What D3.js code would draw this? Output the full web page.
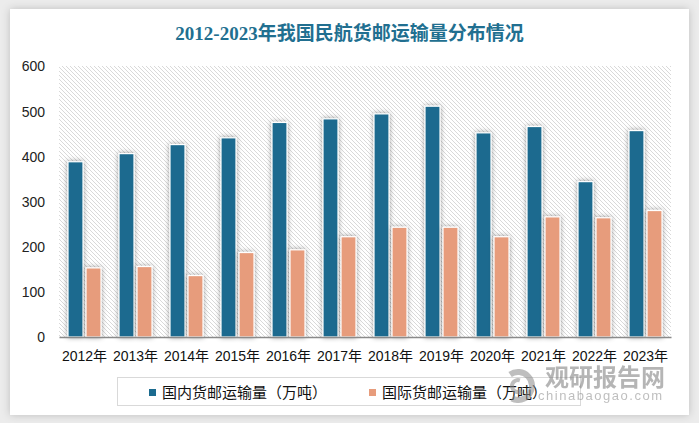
<!DOCTYPE html>
<html>
<head>
<meta charset="utf-8">
<script src="https://cdn.jsdelivr.net/npm/d3@7"></script>
<style>
  html, body { margin: 0; padding: 0; background: #ffffff; }
  svg { display: block; }
</style>
</head>
<body>
<svg id="chart" width="699" height="423"></svg>
<script>
const title = "2012-2023年我国民航货邮运输量分布情况";
const years = ["2012年","2013年","2014年","2015年","2016年","2017年","2018年","2019年","2020年","2021年","2022年","2023年"];
const seriesNames = ["国内货邮运输量（万吨）", "国际货邮运输量（万吨）"];
const domestic = [388, 406, 426, 441, 475, 483, 494, 511, 452, 466, 344, 457];
const international = [153, 156, 136, 187, 193, 222, 243, 243, 222, 266, 264, 280];
const yTicks = [0, 100, 200, 300, 400, 500, 600];
const colors = ["#1b6b8f", "#e79c7c"];

const svg = d3.select("#chart");
const W = 699, H = 423;
const defs = svg.append("defs");

// card shadow
const cs = defs.append("filter").attr("id", "cardShadow").attr("x", "-5%").attr("y", "-5%").attr("width", "110%").attr("height", "110%");
cs.append("feGaussianBlur").attr("in", "SourceAlpha").attr("stdDeviation", 4).attr("result", "b");
cs.append("feFlood").attr("flood-color", "#000").attr("flood-opacity", 0.2);
cs.append("feComposite").attr("in2", "b").attr("operator", "in").attr("result", "s");
const csm = cs.append("feMerge");
csm.append("feMergeNode").attr("in", "s");
csm.append("feMergeNode").attr("in", "SourceGraphic");

// bar shadow
const bs = defs.append("filter").attr("id", "barShadow").attr("x", "-60%").attr("y", "-20%").attr("width", "220%").attr("height", "140%");
bs.append("feGaussianBlur").attr("in", "SourceAlpha").attr("stdDeviation", 2.5).attr("result", "b");
bs.append("feFlood").attr("flood-color", "#000").attr("flood-opacity", 0.4);
bs.append("feComposite").attr("in2", "b").attr("operator", "in").attr("result", "s");
const bsm = bs.append("feMerge");
bsm.append("feMergeNode").attr("in", "s");
bsm.append("feMergeNode").attr("in", "SourceGraphic");

// hatch pattern
const pat = defs.append("pattern").attr("id", "hatch").attr("patternUnits", "userSpaceOnUse")
  .attr("width", 4).attr("height", 4);
pat.append("rect").attr("width", 4).attr("height", 4).attr("fill", "#ffffff");
pat.append("path").attr("d", "M-1,-1 L5,5 M-1,3 L1,5 M3,-1 L5,1")
  .attr("stroke", "#d9d9d9").attr("stroke-width", 1);

// background
svg.append("rect").attr("width", W).attr("height", H).attr("fill", "#ececec");
svg.append("rect").attr("x", 10).attr("y", 9).attr("width", 679).attr("height", 406)
  .attr("fill", "#ffffff").attr("filter", "url(#cardShadow)");

// title
svg.append("text").attr("x", 349.5).attr("y", 40).attr("text-anchor", "middle")
  .attr("font-family", "'Liberation Serif', 'Noto Sans CJK SC', serif")
  .attr("font-size", 19).attr("font-weight", "bold").attr("fill", "#216f90")
  .text(title);

const plot = { left: 59, right: 671, top: 66, bottom: 337 };
const x = d3.scaleBand().domain(years).range([plot.left, plot.right]).paddingInner(0).paddingOuter(0);
const xSub = d3.scaleBand().domain([0, 1]).range([0, x.bandwidth()]).paddingInner(1 / 6).paddingOuter(0.5);
const y = d3.scaleLinear().domain([0, 600]).range([plot.bottom, plot.top]);

// plot area hatch
svg.append("rect").attr("x", plot.left).attr("y", plot.top)
  .attr("width", plot.right - plot.left).attr("height", plot.bottom - plot.top)
  .attr("fill", "url(#hatch)");

// y axis labels
const yAxis = svg.append("g").attr("transform", `translate(${plot.left - 14},0)`)
  .call(d3.axisLeft(y).tickValues(yTicks).tickSize(0).tickPadding(0).tickFormat(d3.format("d")));
yAxis.select(".domain").remove();
yAxis.selectAll("text").attr("font-family", "'Liberation Sans', Arial, sans-serif")
  .attr("font-size", 14).attr("fill", "#222").attr("dy", "0.35em");

// bars
const data = [domestic, international];
data.forEach((vals, si) => {
  svg.append("g").selectAll("rect").data(vals).join("rect")
    .attr("x", (d, i) => x(years[i]) + xSub(si))
    .attr("y", d => y(d))
    .attr("width", xSub.bandwidth())
    .attr("height", d => y(0) - y(d))
    .attr("fill", colors[si])
    .attr("stroke", "#ffffff").attr("stroke-width", 1.2)
    .attr("filter", "url(#barShadow)");
});

// x axis
const xAxis = svg.append("g").attr("transform", `translate(0,${plot.bottom})`)
  .call(d3.axisBottom(x).tickSize(0).tickPadding(14));
xAxis.select(".domain").attr("stroke", "#8a8a8a").attr("stroke-width", 1.3);
xAxis.selectAll("text").attr("font-family", "'Liberation Sans', 'Noto Sans CJK SC', sans-serif")
  .attr("font-size", 14).attr("fill", "#111");

// legend
svg.append("rect").attr("x", 117.5).attr("y", 377.5).attr("width", 463).attr("height", 28)
  .attr("fill", "#ffffff").attr("stroke", "#d9d9d9").attr("stroke-width", 1);
const legX = [149, 369];
seriesNames.forEach((name, i) => {
  const g = svg.append("g").attr("transform", `translate(${legX[i]},0)`);
  g.append("rect").attr("x", 0).attr("y", 389).attr("width", 7).attr("height", 7).attr("fill", colors[i]);
  g.append("text").attr("x", 13).attr("y", 397.5)
    .attr("font-family", "'Noto Sans CJK SC', sans-serif").attr("font-size", 15).attr("fill", "#111")
    .text(name);
});

// watermark
const wm = svg.append("g").attr("opacity", 0.55);
wm.append("path").attr("d", d3.arc()({ innerRadius: 11, outerRadius: 17, startAngle: -0.6, endAngle: 3.6 }))
  .attr("transform", "translate(518,386)").attr("fill", "#8a8a8a");
wm.append("path").attr("d", d3.arc()({ innerRadius: 4, outerRadius: 8, startAngle: 2.5, endAngle: 6.6 }))
  .attr("transform", "translate(518,386)").attr("fill", "#8a8a8a");
wm.append("text").attr("x", 545).attr("y", 386).attr("font-family", "'Noto Sans CJK SC', sans-serif")
  .attr("font-size", 24).attr("font-weight", "bold").attr("fill", "#7a7a7a").text("观研报告网");
wm.append("text").attr("x", 538).attr("y", 400).attr("font-family", "'Liberation Sans', sans-serif")
  .attr("font-size", 13).attr("fill", "#8a8a8a").attr("textLength", 124).text("chinabaogao.com");
</script>
</body>
</html>
